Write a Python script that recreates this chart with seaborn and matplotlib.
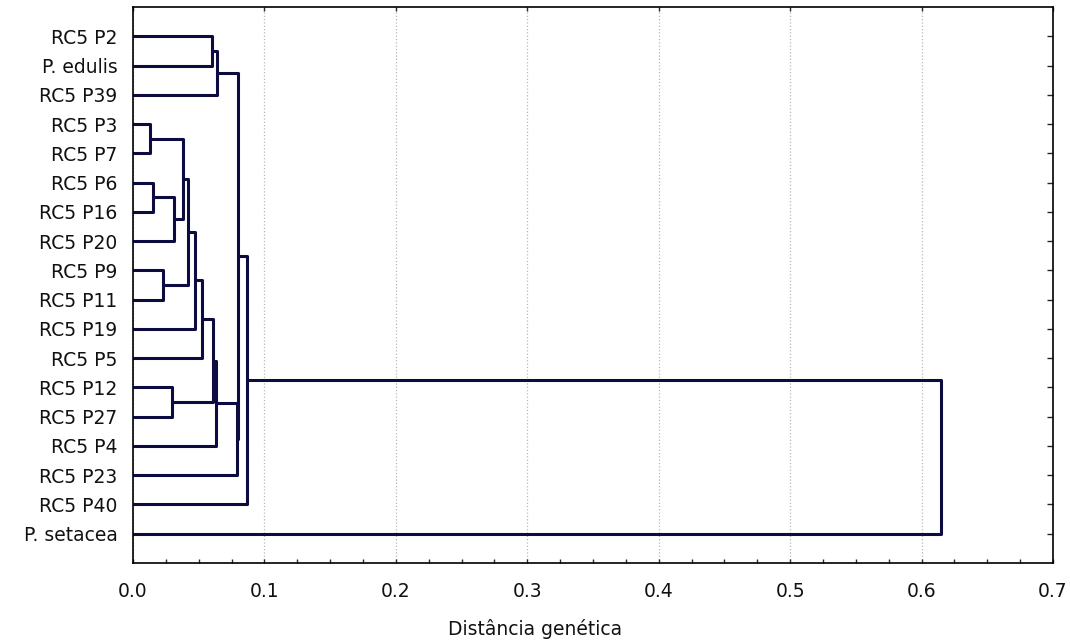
import numpy as np
import pandas as pd
import matplotlib
matplotlib.use('Agg')
import matplotlib.pyplot as plt
from matplotlib.ticker import MultipleLocator
import seaborn as sns

# 잎(leaf) 순서: 위에서 아래로
leaves = ['RC5 P2', 'P. edulis', 'RC5 P39', 'RC5 P3', 'RC5 P7', 'RC5 P6',
          'RC5 P16', 'RC5 P20', 'RC5 P9', 'RC5 P11', 'RC5 P19', 'RC5 P5',
          'RC5 P12', 'RC5 P27', 'RC5 P4', 'RC5 P23', 'RC5 P40', 'P. setacea']

# 병합 순서 (linkage 형식): 0~17 = 잎, 18 이후 = 병합 노드
merge_left = [0, 18, 3, 5, 21, 20, 8, 23, 25, 26, 12, 27, 29, 30, 19, 32, 33]
merge_right = [1, 2, 4, 6, 7, 22, 9, 24, 10, 11, 13, 28, 14, 15, 31, 16, 17]
merge_height = [0.060, 0.0637, 0.013, 0.015, 0.031, 0.038, 0.023, 0.042,
                0.047, 0.0525, 0.030, 0.061, 0.063, 0.079, 0.080, 0.0865, 0.615]

x_ticks = [0.0, 0.1, 0.2, 0.3, 0.4, 0.5, 0.6, 0.7]

# 노드 위치 계산
n = len(leaves)
node_y = list(range(n))
node_h = [0.0] * n
rows = []
for k, (a, b, h) in enumerate(zip(merge_left, merge_right, merge_height)):
    ya, yb = node_y[a], node_y[b]
    ha, hb = node_h[a], node_h[b]
    for xx, yy in [(ha, ya), (h, ya), (h, yb), (hb, yb)]:
        rows.append({'seg': k, 'x': xx, 'y': yy})
    node_y.append((ya + yb) / 2)
    node_h.append(h)
df = pd.DataFrame(rows)

sns.set_style('white')
plt.rcParams['font.family'] = ['DejaVu Sans']

fig = plt.figure(figsize=(10.7, 6.42), dpi=100)
ax = fig.add_axes([133 / 1070, 1 - 563 / 642, 920 / 1070, 556 / 642])

sns.lineplot(data=df, x='x', y='y', units='seg', estimator=None, sort=False,
             color='#0c0c40', linewidth=2.2, ax=ax)

ax.set_xlim(0, 0.7)
ax.set_ylim(n, -1)
ax.set_xticks(x_ticks)
ax.set_xticklabels(['%.1f' % t for t in x_ticks], fontsize=13.5, color='#111111')
ax.xaxis.set_minor_locator(MultipleLocator(0.025))
ax.set_yticks(range(n))
ax.set_yticklabels(leaves, fontsize=13.5, color='#111111')

ax.grid(axis='x', which='major', linestyle=':', color='#b8b8b8', linewidth=0.9)
ax.tick_params(axis='x', which='both', direction='in', length=3, width=1,
               bottom=True, top=False, pad=14)
ax.tick_params(axis='x', which='major', top=True)
ax.tick_params(axis='y', which='both', direction='in', length=4, width=1,
               left=False, right=True, pad=11)
for sp in ax.spines.values():
    sp.set_color('black')
    sp.set_linewidth(1.2)

ax.set_ylabel('')
ax.set_xlabel('Distância genética', fontsize=13.5, color='#111111')
ax.xaxis.set_label_coords(0.437, -0.10)

fig.savefig('out.png', dpi=100)
